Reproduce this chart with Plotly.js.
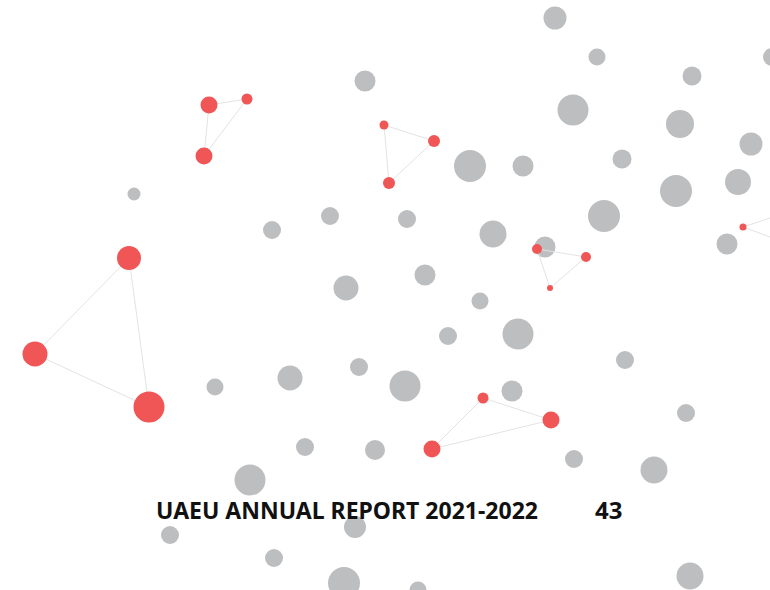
<!DOCTYPE html>
<html>
<head>
<meta charset="utf-8">
<script src="https://cdn.plot.ly/plotly-3.0.1.min.js"></script>
<style>html,body{margin:0;padding:0;background:#fff;}#chart{width:770px;height:590px;}</style>
</head>
<body>
<div id="chart"></div>
<script>
// Gray nodes
var grayX = [365, 134, 272, 330, 346, 555, 597, 692, 772, 573, 680, 751, 470, 523, 622, 676, 738, 407, 493, 604, 545, 727, 425, 480, 359, 290, 215, 305, 375, 250, 170, 355, 274, 344, 448, 518, 405, 512, 625, 686, 574, 654, 690, 418];
var grayY = [81, 194, 230, 216, 288, 18, 57, 76, 57, 110, 124, 144, 166, 166, 159, 191, 182, 219, 234, 216, 247, 244, 275, 301, 367, 378, 387, 447, 450, 480, 535, 527, 558, 583, 336, 334, 386, 391, 360, 413, 459, 470, 576, 590];
var graySize = [21, 13, 18, 18, 25, 23, 17, 19, 18, 31, 28, 23, 32, 21, 19, 32, 26, 18, 27, 32, 21, 21, 21, 17, 18, 25, 17, 18, 20, 31, 18, 22, 18, 32, 18, 31, 31, 21, 18, 18, 18, 27, 27, 17];

// Red nodes
var redX = [209, 247, 204, 129, 35, 149, 384, 434, 389, 537, 586, 550, 483, 551, 432, 743];
var redY = [105, 99, 156, 258, 354, 407, 125, 141, 183, 249, 257, 288, 398, 420, 449, 227];
var redSize = [17, 11, 17, 24, 25, 31, 9, 12, 12, 10, 10, 6, 11, 17, 17, 7];

// Links (groups separated by null)
var linkX = [209, 247, 204, 209, null, 129, 35, 149, 129, null, 384, 434, 389, 384, null, 537, 586, 550, 537, null, 483, 551, 432, 483, null, 800, 743, 800];
var linkY = [105, 99, 156, 105, null, 258, 354, 407, 258, null, 125, 141, 183, 125, null, 249, 257, 288, 249, null, 398, 420, 449, 398, null, 208, 227, 248];

// Labels
var footerTitle = "UAEU ANNUAL REPORT 2021-2022";
var pageNumber = "43";

var traces = [
  {x: grayX, y: grayY, mode: 'markers', type: 'scatter', hoverinfo: 'skip',
   marker: {size: graySize, color: '#bdbec0', line: {width: 0}, opacity: 1}},
  {x: linkX, y: linkY, mode: 'lines', type: 'scatter', hoverinfo: 'skip', connectgaps: false,
   line: {color: '#e3e3e3', width: 1}},
  {x: redX, y: redY, mode: 'markers', type: 'scatter', hoverinfo: 'skip',
   marker: {size: redSize, color: '#f05656', line: {width: 0}, opacity: 1}}
];

var layout = {
  width: 770, height: 590,
  margin: {l: 0, r: 0, t: 0, b: 0, pad: 0},
  paper_bgcolor: '#ffffff', plot_bgcolor: '#ffffff',
  showlegend: false,
  xaxis: {range: [0, 770], visible: false, fixedrange: true},
  yaxis: {range: [590, 0], visible: false, fixedrange: true},
  annotations: [
    {x: 347, y: 510, xref: 'x', yref: 'y', text: '<b>' + footerTitle + '</b>', showarrow: false,
     font: {family: 'Noto Sans, Open Sans, sans-serif', size: 23, color: '#111111'}, xanchor: 'center', yanchor: 'middle'},
    {x: 608, y: 509, xref: 'x', yref: 'y', text: '<b>' + pageNumber + '</b>', showarrow: false,
     font: {family: 'Noto Sans, Open Sans, sans-serif', size: 24, color: '#111111'}, xanchor: 'center', yanchor: 'middle'}
  ]
};

Plotly.newPlot('chart', traces, layout, {displayModeBar: false, staticPlot: true});
</script>
</body>
</html>
